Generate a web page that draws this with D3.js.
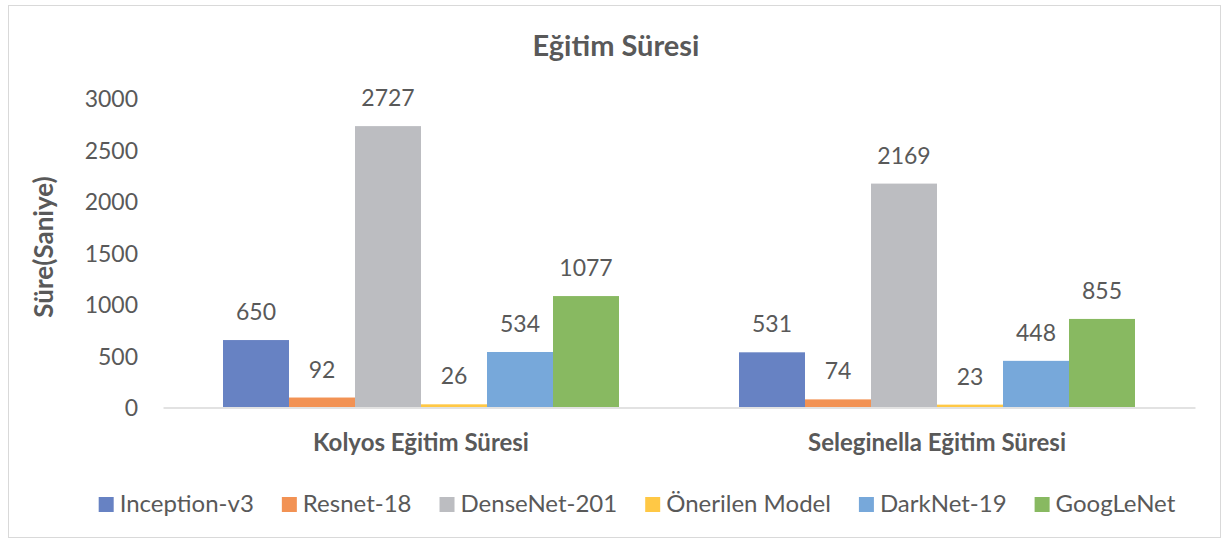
<!DOCTYPE html>
<html>
<head>
<meta charset="utf-8">
<script src="https://cdn.jsdelivr.net/npm/d3@7"></script>
<style>
  html, body { margin: 0; padding: 0; background: #ffffff; }
  svg { display: block; font-family: Lato, "Open Sans", sans-serif; }
</style>
</head>
<body>
<svg id="chart" width="1223" height="539"></svg>
<script>
// Training time per model, two datasets
const groups = ["Kolyos Eğitim Süresi", "Seleginella Eğitim Süresi"];
const series = ["Inception-v3", "Resnet-18", "DenseNet-201", "Önerilen Model", "DarkNet-19", "GoogLeNet"];
const colors = ["#6782c3", "#f29254", "#bcbdc1", "#ffc845", "#77a8da", "#88b961"];
const inceptionV3 = [650, 531];
const resnet18 = [92, 74];
const densenet201 = [2727, 2169];
const onerilenModel = [26, 23];
const darknet19 = [534, 448];
const googlenet = [1077, 855];
const yTicks = [0, 500, 1000, 1500, 2000, 2500, 3000];

const values = [inceptionV3, resnet18, densenet201, onerilenModel, darknet19, googlenet];
const textColor = "#595959";
const fontFamily = "Lato, 'Open Sans', sans-serif";

const svg = d3.select("#chart");

// outer frame
svg.append("rect")
  .attr("x", 8.5).attr("y", 5.5)
  .attr("width", 1212).attr("height", 532)
  .attr("fill", "#fff").attr("stroke", "#d9d9d9").attr("stroke-width", 1);

const plotLeft = 163, plotRight = 1195, plotTop = 98, plotBottom = 407;

const y = d3.scaleLinear().domain([0, 3000]).range([plotBottom, plotTop]);
const x0 = d3.scaleBand().domain(groups).range([plotLeft, plotRight]).padding(0);
const x1 = d3.scaleBand().domain(series)
  .range([60, x0.bandwidth() - 60]).padding(0);

// title
svg.append("text")
  .attr("x", 616).attr("y", 56)
  .attr("text-anchor", "middle")
  .attr("font-size", 29).attr("font-weight", 700)
  .attr("fill", textColor)
  .text("Eğitim Süresi");

// y axis title
svg.append("text")
  .attr("transform", "translate(53,247) rotate(-90)")
  .attr("text-anchor", "middle")
  .attr("font-size", 26).attr("font-weight", 700)
  .attr("fill", textColor)
  .text("Süre(Saniye)");

// y axis tick labels
const yAxis = d3.axisLeft(y).tickValues(yTicks).tickSize(0).tickPadding(0)
  .tickFormat(d3.format("d"));
const yg = svg.append("g").attr("transform", "translate(138,0)").call(yAxis);
yg.select(".domain").remove();
yg.selectAll("text")
  .attr("font-size", 23).attr("fill", textColor)
  .attr("font-family", fontFamily)
  .attr("dy", "0.37em");

// bars with value labels
const gGroups = svg.append("g").selectAll("g")
  .data(groups).join("g")
  .attr("transform", d => `translate(${x0(d)},0)`);

gGroups.each(function(g, gi) {
  const sel = d3.select(this);
  series.forEach((s, si) => {
    const v = values[si][gi];
    sel.append("rect")
      .attr("x", x1(s)).attr("y", y(v))
      .attr("width", x1.bandwidth())
      .attr("height", y(0) - y(v))
      .attr("fill", colors[si]);
    sel.append("text")
      .attr("x", x1(s) + x1.bandwidth() / 2)
      .attr("y", y(v) - 20)
      .attr("text-anchor", "middle")
      .attr("font-size", 23).attr("fill", textColor)
      .text(v);
  });
});

// x axis baseline and category labels
const xAxis = d3.axisBottom(x0).tickSize(0).tickPadding(0);
const xg = svg.append("g").attr("transform", `translate(0,${plotBottom + 0.5})`).call(xAxis);
xg.select(".domain").attr("stroke", "#d9d9d9").attr("stroke-width", 1.5);
xg.selectAll("text")
  .attr("font-size", 24).attr("font-weight", 700)
  .attr("fill", textColor)
  .attr("font-family", fontFamily)
  .attr("dy", null)
  .attr("y", 43);

// legend: swatch, gap, label, spacing; centred as a row
const lg = svg.append("g");
const items = series.map((s, i) => {
  const g = lg.append("g");
  g.append("rect")
    .attr("x", 0).attr("y", 497)
    .attr("width", 15).attr("height", 15)
    .attr("fill", colors[i]);
  const t = g.append("text")
    .attr("x", 21).attr("y", 512)
    .attr("font-size", 24).attr("fill", textColor)
    .text(s);
  return { g, w: 21 + t.node().getComputedTextLength() };
});
const spacing = 28;
const total = d3.sum(items, d => d.w) + spacing * (items.length - 1);
let cx = 637 - total / 2;
items.forEach(it => {
  it.g.attr("transform", `translate(${cx},0)`);
  cx += it.w + spacing;
});
</script>
</body>
</html>
